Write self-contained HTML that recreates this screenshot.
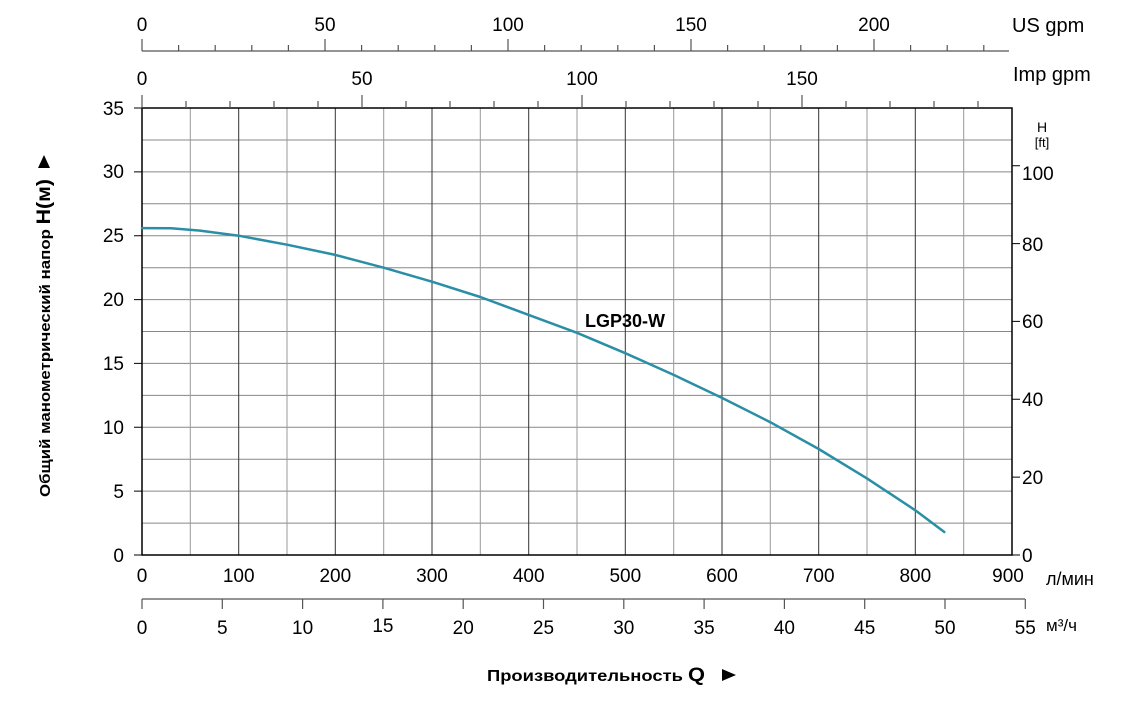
<!DOCTYPE html>
<html><head><meta charset="utf-8"><style>body{margin:0;background:#fff}svg{display:block;font-family:"Liberation Sans",Arial,sans-serif}</style></head>
<body>
<svg width="1138" height="703" viewBox="0 0 1138 703" xmlns="http://www.w3.org/2000/svg">
<path d="M142 523.1H1012M142 491.1H1012M142 459.2H1012M142 427.3H1012M142 395.4H1012M142 363.4H1012M142 331.5H1012M142 299.6H1012M142 267.7H1012M142 235.7H1012M142 203.8H1012M142 171.9H1012M142 140H1012" stroke="#888" stroke-width="1" fill="none"/>
<path d="M190.3 108V555M287 108V555M383.7 108V555M480.3 108V555M577 108V555M673.7 108V555M770.3 108V555M867 108V555M963.7 108V555" stroke="#999" stroke-width="1" fill="none"/>
<path d="M238.7 108V555M335.3 108V555M432 108V555M528.7 108V555M625.3 108V555M722 108V555M818.7 108V555M915.3 108V555" stroke="#333" stroke-width="1" fill="none"/>
<rect x="142" y="108" width="870" height="447" fill="none" stroke="#000" stroke-width="1.5"/>
<path d="M134 555H142M134 491.1H142M134 427.3H142M134 363.4H142M134 299.6H142M134 235.7H142M134 171.9H142M134 108H142" stroke="#000"/>
<g font-size="19" text-anchor="end">
<text x="124" y="562">0</text><text x="124" y="498">5</text><text x="124" y="434">10</text><text x="124" y="370">15</text><text x="124" y="306">20</text><text x="124" y="242">25</text><text x="124" y="178">30</text><text x="124" y="115">35</text>
</g>
<path d="M1012 555H1020M1012 477.1H1020M1012 399.3H1020M1012 321.4H1020M1012 243.6H1020M1012 165.7H1020" stroke="#000"/>
<g font-size="19">
<text x="1022" y="562">0</text><text x="1022" y="484">20</text><text x="1022" y="406">40</text><text x="1022" y="328">60</text><text x="1022" y="251">80</text><text x="1022" y="180">100</text>
</g>
<g font-size="19" text-anchor="middle">
<text x="142" y="582">0</text><text x="238.7" y="582">100</text><text x="335.3" y="582">200</text><text x="432" y="582">300</text><text x="528.7" y="582">400</text><text x="625.3" y="582">500</text><text x="722" y="582">600</text><text x="818.7" y="582">700</text><text x="915.3" y="582">800</text><text x="1008" y="582">900</text>
</g>
<path d="M142 599H1025M142 599V609M222.3 599V609M302.6 599V609M382.9 599V609M463.2 599V609M543.5 599V609M623.8 599V609M704.1 599V609M784.4 599V609M864.7 599V609M945 599V609M1025.3 599V609" stroke="#555" stroke-width="1.2" fill="none"/>
<g font-size="19" text-anchor="middle">
<text x="142" y="634">0</text><text x="222.3" y="634">5</text><text x="302.6" y="634">10</text><text x="382.9" y="632">15</text><text x="463.2" y="634">20</text><text x="543.5" y="634">25</text><text x="623.8" y="634">30</text><text x="704.1" y="634">35</text><text x="784.4" y="634">40</text><text x="864.7" y="634">45</text><text x="945" y="634">50</text><text x="1025.3" y="634">55</text>
</g>
<path d="M142 51H1009M142 39V51M178.6 45V51M215.2 45V51M251.8 45V51M288.4 45V51M325 39V51M361.6 45V51M398.2 45V51M434.8 45V51M471.4 45V51M508 39V51M544.6 45V51M581.2 45V51M617.8 45V51M654.4 45V51M691 39V51M727.6 45V51M764.2 45V51M800.8 45V51M837.4 45V51M874 39V51M910.6 45V51M947.2 45V51M983.8 45V51" stroke="#555" stroke-width="1.2" fill="none"/>
<g font-size="19" text-anchor="middle">
<text x="142" y="31">0</text><text x="325" y="31">50</text><text x="508" y="31">100</text><text x="691" y="31">150</text><text x="874" y="31">200</text>
</g>
<path d="M142 95V108M186 101V108M230 101V108M274 101V108M318 101V108M362 95V108M406 101V108M450 101V108M494 101V108M538 101V108M582 95V108M626 101V108M670 101V108M714 101V108M758 101V108M802 95V108M846 101V108M890 101V108M934 101V108M978 101V108" stroke="#555" stroke-width="1.2" fill="none"/>
<g font-size="19" text-anchor="middle">
<text x="142" y="85">0</text><text x="362" y="85">50</text><text x="582" y="85">100</text><text x="802" y="85">150</text>
</g>
<path d="M142 228.1L171 228.3L200 230.6L238.7 235.7L287 244.7L335.3 254.9L383.7 267.7L432 281.7L480.3 297L528.7 314.9L577 332.8L625.3 353.2L673.7 374.9L722 397.9L770.3 422.2L818.7 449L867 478.4L915.3 510.3L944.3 532" fill="none" stroke="#2a8fa6" stroke-width="2.5" stroke-linejoin="round" stroke-linecap="round"/>
<text x="1012" y="32" font-size="20">US gpm</text>
<text x="1013" y="81" font-size="20">Imp gpm</text>
<text x="1042" y="132" font-size="14" text-anchor="middle">H</text>
<text x="1042" y="147" font-size="13" text-anchor="middle">[ft]</text>
<text x="1046" y="585" font-size="18">л/мин</text>
<text x="1046" y="631" font-size="17">м³/ч</text>
<text x="585" y="327" font-size="18" font-weight="bold">LGP30-W</text>
<text x="487" y="681" font-size="16" font-weight="bold" textLength="218" lengthAdjust="spacingAndGlyphs">Производительность <tspan font-size="19">Q</tspan></text>
<polygon points="722,669 736,675 722,681" fill="#000"/>
<g transform="translate(50,338) rotate(-90)">
<text x="0" y="0" font-size="15" font-weight="bold" text-anchor="middle" textLength="318" lengthAdjust="spacingAndGlyphs">Общий манометрический напор  <tspan font-size="19">H(м)</tspan></text>
</g>
<polygon points="38,168 44,155 50,168" fill="#000"/>
</svg>
</body></html>
